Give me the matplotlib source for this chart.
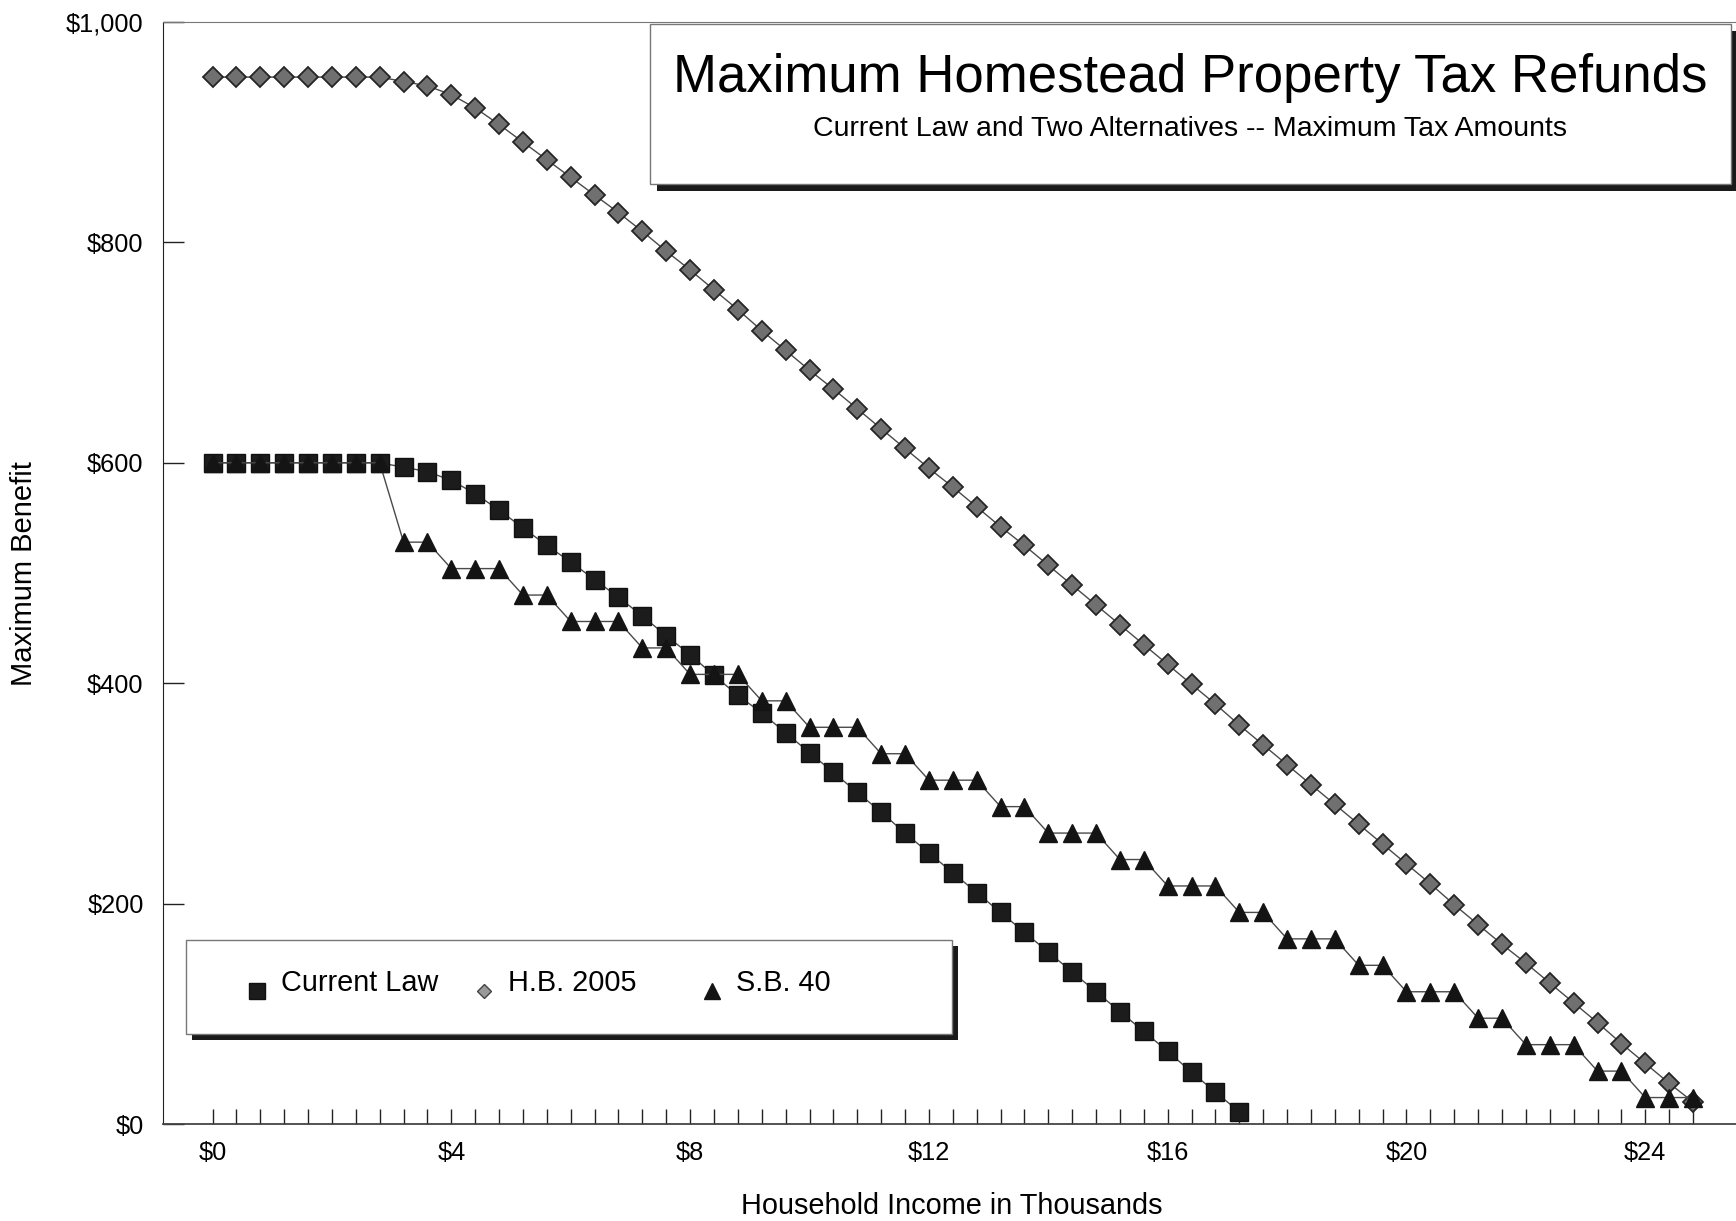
import matplotlib
matplotlib.use("Agg")
import matplotlib.pyplot as plt
from matplotlib.patches import Rectangle
from matplotlib.lines import Line2D

plt.rcParams['font.family'] = ['Liberation Sans', 'DejaVu Sans']

# household income brackets, thousands of dollars
income = [0.0, 0.4, 0.8, 1.2, 1.6, 2.0, 2.4, 2.8, 3.2, 3.6, 4.0, 4.4, 4.8, 5.2,
          5.6, 6.0, 6.4, 6.8, 7.2, 7.6, 8.0, 8.4, 8.8, 9.2, 9.6, 10.0, 10.4,
          10.8, 11.2, 11.6, 12.0, 12.4, 12.8, 13.2, 13.6, 14.0, 14.4, 14.8,
          15.2, 15.6, 16.0, 16.4, 16.8, 17.2, 17.6, 18.0, 18.4, 18.8, 19.2,
          19.6, 20.0, 20.4, 20.8, 21.2, 21.6, 22.0, 22.4, 22.8, 23.2, 23.6,
          24.0, 24.4, 24.8]

current_law = [600, 600, 600, 600, 600, 600, 600, 600, 596, 592, 584, 572,
               557, 541, 525, 510, 494, 478, 461, 443, 426, 407, 389, 373,
               355, 337, 319, 301, 283, 264, 246, 228, 210, 192, 174, 156,
               138, 120, 102, 84, 66, 47, 29, 11]

hb_2005 = [950, 950, 950, 950, 950, 950, 950, 950, 946, 942, 934, 922, 907,
           891, 875, 859, 843, 827, 810, 792, 775, 757, 739, 720, 702, 684,
           667, 649, 631, 613, 595, 578, 560, 542, 525, 507, 489, 471, 453,
           435, 417, 399, 381, 362, 344, 326, 308, 290, 272, 254, 236, 218,
           199, 181, 163, 146, 128, 110, 92, 73, 55, 37, 20]

sb_40 = [600, 600, 600, 600, 600, 600, 600, 600, 528, 528, 504, 504, 504,
         480, 480, 456, 456, 456, 432, 432, 408, 408, 408, 384, 384, 360,
         360, 360, 336, 336, 312, 312, 312, 288, 288, 264, 264, 264, 240,
         240, 216, 216, 216, 192, 192, 168, 168, 168, 144, 144, 120, 120,
         120, 96, 96, 72, 72, 72, 48, 48, 24, 24, 24]

x_major = [0, 4, 8, 12, 16, 20, 24]
x_labels = ['$0', '$4', '$8', '$12', '$16', '$20', '$24']
y_major = [0, 200, 400, 600, 800, 1000]
y_labels = ['$0', '$200', '$400', '$600', '$800', '$1,000']

W, H = 1736, 1221


def fx(px):
    return px / W


def fy(py):
    return 1 - py / H


fig = plt.figure(figsize=(W / 100, H / 100), dpi=100)
ax = fig.add_axes([fx(163), fy(1124), 1 - fx(163), fy(22) - fy(1124)])

line_kw = dict(color='#4a4a4a', lw=1.0)
ax.plot(income[:len(current_law)], current_law, marker='s', ms=12.5,
        mfc='#1c1c1c', mec='#111111', **line_kw)
ax.plot(income, hb_2005, marker='D', ms=9.8, mfc='#707070', mec='#252525',
        mew=1.3, **line_kw)
ax.plot(income, sb_40, marker='^', ms=12.5, mfc='#141414', mec='#141414',
        **line_kw)

ax.set_xlim(-0.83, 25.52)
ax.set_ylim(0, 1000)
ax.set_xticks(x_major)
ax.set_xticklabels(x_labels)
ax.set_xticks(income, minor=True)
ax.set_yticks(y_major)
ax.set_yticklabels(y_labels)
ax.tick_params(axis='x', which='both', direction='in', length=11, width=1,
               color='#222222', pad=12, labelsize=18.3)
ax.tick_params(axis='y', direction='in', length=15, width=1,
               color='#222222', pad=14, labelsize=18.3)

ax.spines['right'].set_visible(False)
ax.spines['top'].set_color('#777777')
ax.spines['left'].set_color('#222222')
ax.spines['bottom'].set_color('#444444')
ax.spines['bottom'].set_linewidth(1.3)

fig.text(fx(24), fy(574), 'Maximum Benefit', rotation=90, fontsize=21,
         ha='center', va='center')
fig.text(fx(952), fy(1206), 'Household Income in Thousands', fontsize=20.8,
         ha='center', va='center')

# title box with drop shadow
off = 7
fig.add_artist(Rectangle((fx(650 + off), fy(184 + off)), fx(1081), fy(24) - fy(184),
                         transform=fig.transFigure, facecolor='#1a1a1a',
                         edgecolor='none', zorder=5))
fig.add_artist(Rectangle((fx(650), fy(184)), fx(1081), fy(24) - fy(184),
                         transform=fig.transFigure, facecolor='white',
                         edgecolor='#777777', lw=1.0, zorder=6))
fig.text(fx(1190), fy(78), 'Maximum Homestead Property Tax Refunds',
         fontsize=38, ha='center', va='center', zorder=7)
fig.text(fx(1190), fy(129), 'Current Law and Two Alternatives -- Maximum Tax Amounts',
         fontsize=20.5, ha='center', va='center', zorder=7)

# legend box with drop shadow
off = 6
fig.add_artist(Rectangle((fx(186 + off), fy(1034 + off)), fx(766), fy(940) - fy(1034),
                         transform=fig.transFigure, facecolor='#1a1a1a',
                         edgecolor='none', zorder=5))
fig.add_artist(Rectangle((fx(186), fy(1034)), fx(766), fy(940) - fy(1034),
                         transform=fig.transFigure, facecolor='white',
                         edgecolor='#777777', lw=1.0, zorder=6))
legend_items = [
    (257, 's', 11, '#1c1c1c', '#111111', 'Current Law'),
    (484, 'D', 7.5, '#9a9a9a', '#444444', 'H.B. 2005'),
    (712, '^', 11, '#141414', '#141414', 'S.B. 40'),
]
for px, mk, ms, fc, ec, label in legend_items:
    fig.add_artist(Line2D([fx(px)], [fy(991)], marker=mk, ms=ms, mfc=fc, mec=ec,
                          ls='none', transform=fig.transFigure, zorder=7))
    fig.text(fx(px + 24), fy(983), label, fontsize=20.8, ha='left', va='center',
             zorder=7)

fig.savefig('out.png', dpi=100)
